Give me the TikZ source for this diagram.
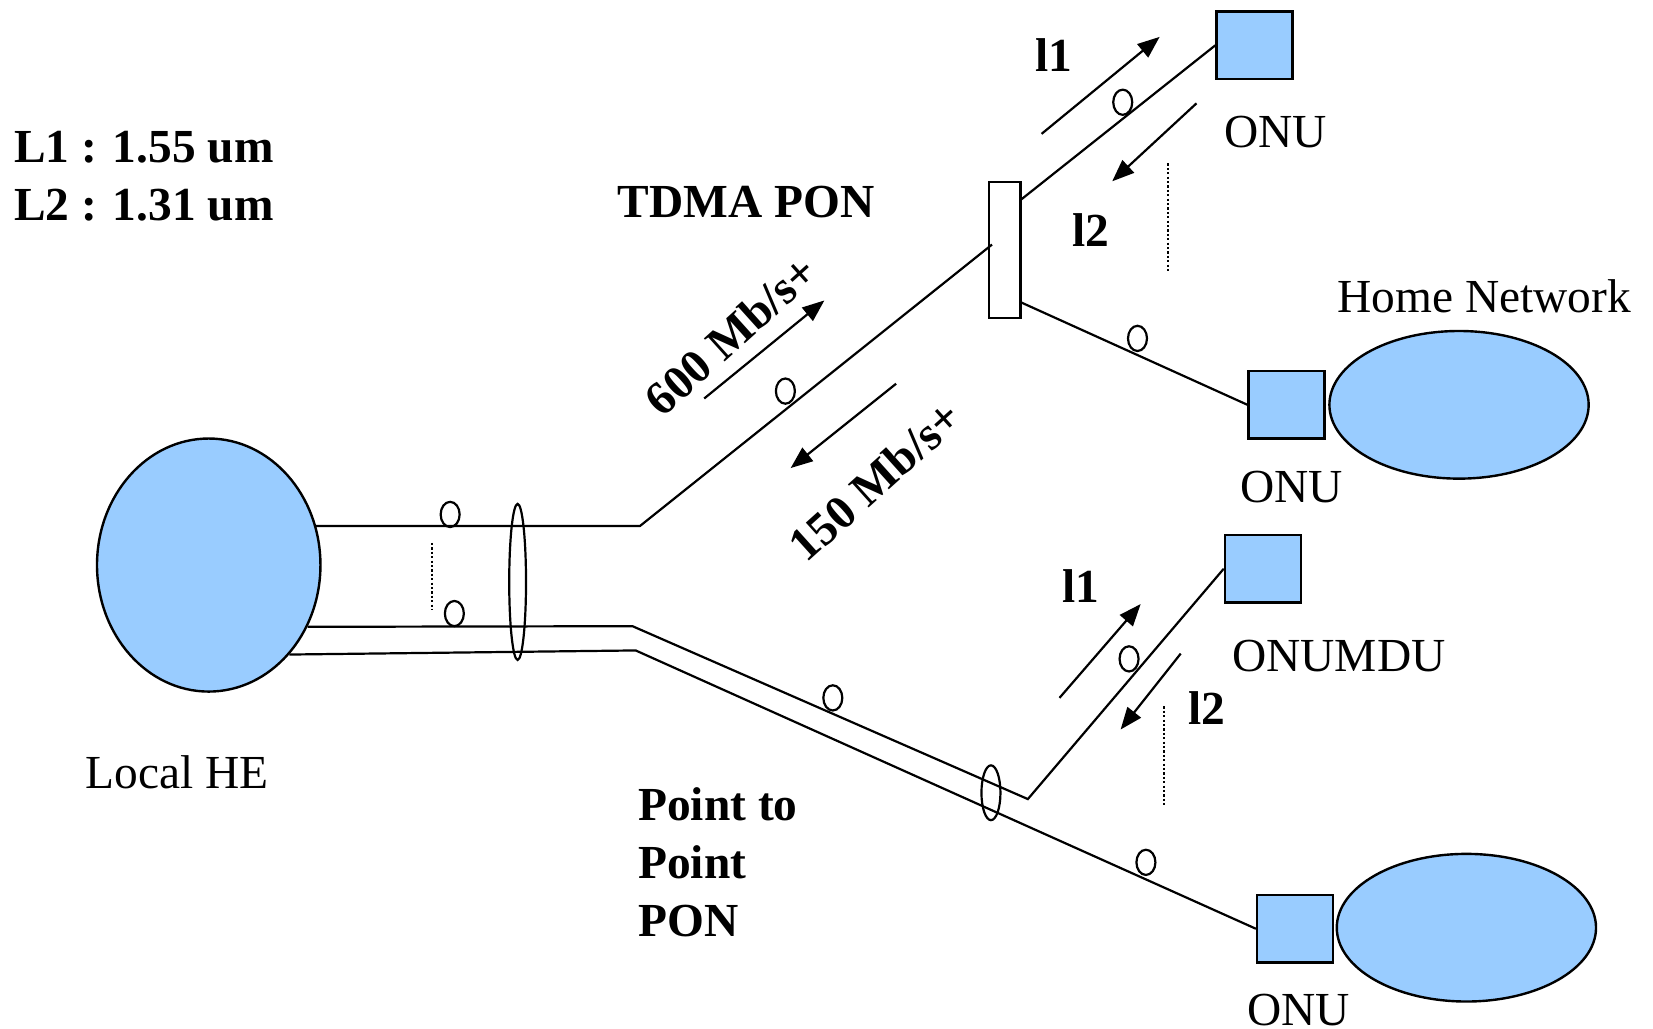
\documentclass[tikz,border=0pt]{standalone}
\usepackage{fontspec}
\setmainfont{Liberation Serif}
\usetikzlibrary{arrows.meta,shapes.geometric,calc}
\definecolor{nodeblue}{HTML}{99CCFF}
\begin{document}
\begin{tikzpicture}[x=0.527pt,y=-0.527pt,
 every node/.style={font=\fontsize{23.7}{29}\selectfont, inner sep=0pt},
 fiber/.style={line width=1.1pt},
 onubox/.style={draw, line width=1.2pt, fill=nodeblue, minimum width=38pt, minimum height=33.7pt},
 hnet/.style={ellipse, draw, line width=1.2pt, fill=nodeblue, minimum width=129.6pt, minimum height=73.8pt},
 arr/.style={line width=1.1pt, -{Triangle[length=11pt,width=8.5pt]}},
 dotv/.style={line width=0.9pt, dash pattern=on 1.1pt off 1.1pt},
 ringnode/.style={ellipse, draw, line width=1.1pt, minimum width=9.5pt, minimum height=12.6pt},
 blab/.style={font=\fontsize{23.7}{29}\selectfont\bfseries},
]
\useasboundingbox (0,0) rectangle (1568,976);

% main shapes
\node[ellipse, draw, line width=1.2pt, fill=nodeblue, minimum width=111.7pt, minimum height=126.5pt] (HE) at (198,536) {};
\node[draw, line width=1.1pt, minimum width=15.8pt, minimum height=68pt] (SP) at (953,237.5) {};
\node[onubox] (ONU1) at (1190,43) {};
\node[onubox] (ONU2) at (1220.5,384) {};
\node[onubox] (MDU) at (1198,539.5) {};
\node[onubox] (ONU3) at (1228.5,881) {};
\node[hnet] (HN1) at (1384,384) {};
\node[hnet] (HN2) at (1391,880) {};

% bend points
\coordinate (b1) at (607,499);
\coordinate (b2) at (600,594);
\coordinate (b3) at (603,617);
\coordinate (b4) at (975,758);
\coordinate (spin) at (941,232);
\coordinate (spo1) at ($(SP.north east)+(0,17)$);
\coordinate (spo2) at ($(SP.south east)+(0,-16)$);

% fibers
\draw[fiber] (HE.20.2) -- (b1) -- (spin);
\draw[fiber] (spo1) -- (ONU1.west);
\draw[fiber] (spo2) -- (ONU2.west);
\draw[fiber] (HE.-32) -- (b2) -- (b4) -- (MDU.west);
\draw[fiber] (HE.-48.7) -- (b3) -- (ONU3.west);

% bundle rings
\node[ringnode, minimum width=8.4pt, minimum height=78pt] (R1) at (491,552) {};
\node[ringnode, minimum width=9.5pt, minimum height=27.4pt] (R2) at (940,752) {};

% small fibre rings
\node[ringnode] (c1) at (427,488) {};
\node[ringnode] (c2) at (431,582) {};
\node[ringnode] (c3) at (745,371) {};
\node[ringnode] (c4) at (1065,97) {};
\node[ringnode] (c5) at (1079,321) {};
\node[ringnode] (c6) at (790,662) {};
\node[ringnode] (c7) at (1071,625) {};
\node[ringnode] (c8) at (1087,818) {};

% dotted lines
\coordinate (d1a) at (410,515); \coordinate (d1b) at (410,578);
\coordinate (d2a) at (1108,155); \coordinate (d2b) at (1108,258);
\coordinate (d3a) at (1104,670); \coordinate (d3b) at (1104,765);
\draw[dotv] (d1a) -- (d1b);
\draw[dotv] (d2a) -- (d2b);
\draw[dotv] (d3a) -- (d3b);

% arrows
\coordinate (a1s) at (668,378); \coordinate (a1e) at (782,285);
\coordinate (a2s) at (850,364); \coordinate (a2e) at (750,444);
\coordinate (a3s) at (988,127); \coordinate (a3e) at (1100,35);
\coordinate (a4s) at (1135,98); \coordinate (a4e) at (1055,172);
\coordinate (a5s) at (1005,662); \coordinate (a5e) at (1082,573);
\coordinate (a6s) at (1120,620); \coordinate (a6e) at (1063,692);
\draw[arr] (a1s) -- (a1e);
\draw[arr] (a2s) -- (a2e);
\draw[arr] (a3s) -- (a3e);
\draw[arr] (a4s) -- (a4e);
\draw[arr] (a5s) -- (a5e);
\draw[arr] (a6s) -- (a6e);

% labels
\node[blab, anchor=west, align=left] (legend) at (13,167.5) {L1 : 1.55 um\\L2 : 1.31 um};
\node[blab] (tdma) at (708,192) {TDMA PON};
\node[blab, rotate=42] (r600) at (693,318) {600 Mb/s+};
\node[blab, rotate=42] (r150) at (830,456) {150 Mb/s+};
\node[blab] (l1a) at (1000,52) {l1};
\node[blab] (l2a) at (1035,218) {l2};
\node[blab] (l1b) at (1025,556) {l1};
\node[blab] (l2b) at (1145,672) {l2};
\node[blab, anchor=west, align=left] (p2p) at (605,817.5) {Point to\\Point\\PON};
\node (onu1l) at (1210,125) {ONU};
\node (onu2l) at (1225,462) {ONU};
\node (mdul) at (1270,622) {ONUMDU};
\node (onu3l) at (1232,958) {ONU};
\node (hnl) at (1408,281) {Home Network};
\node (hel) at (168,733) {Local HE};
\end{tikzpicture}
\end{document}
